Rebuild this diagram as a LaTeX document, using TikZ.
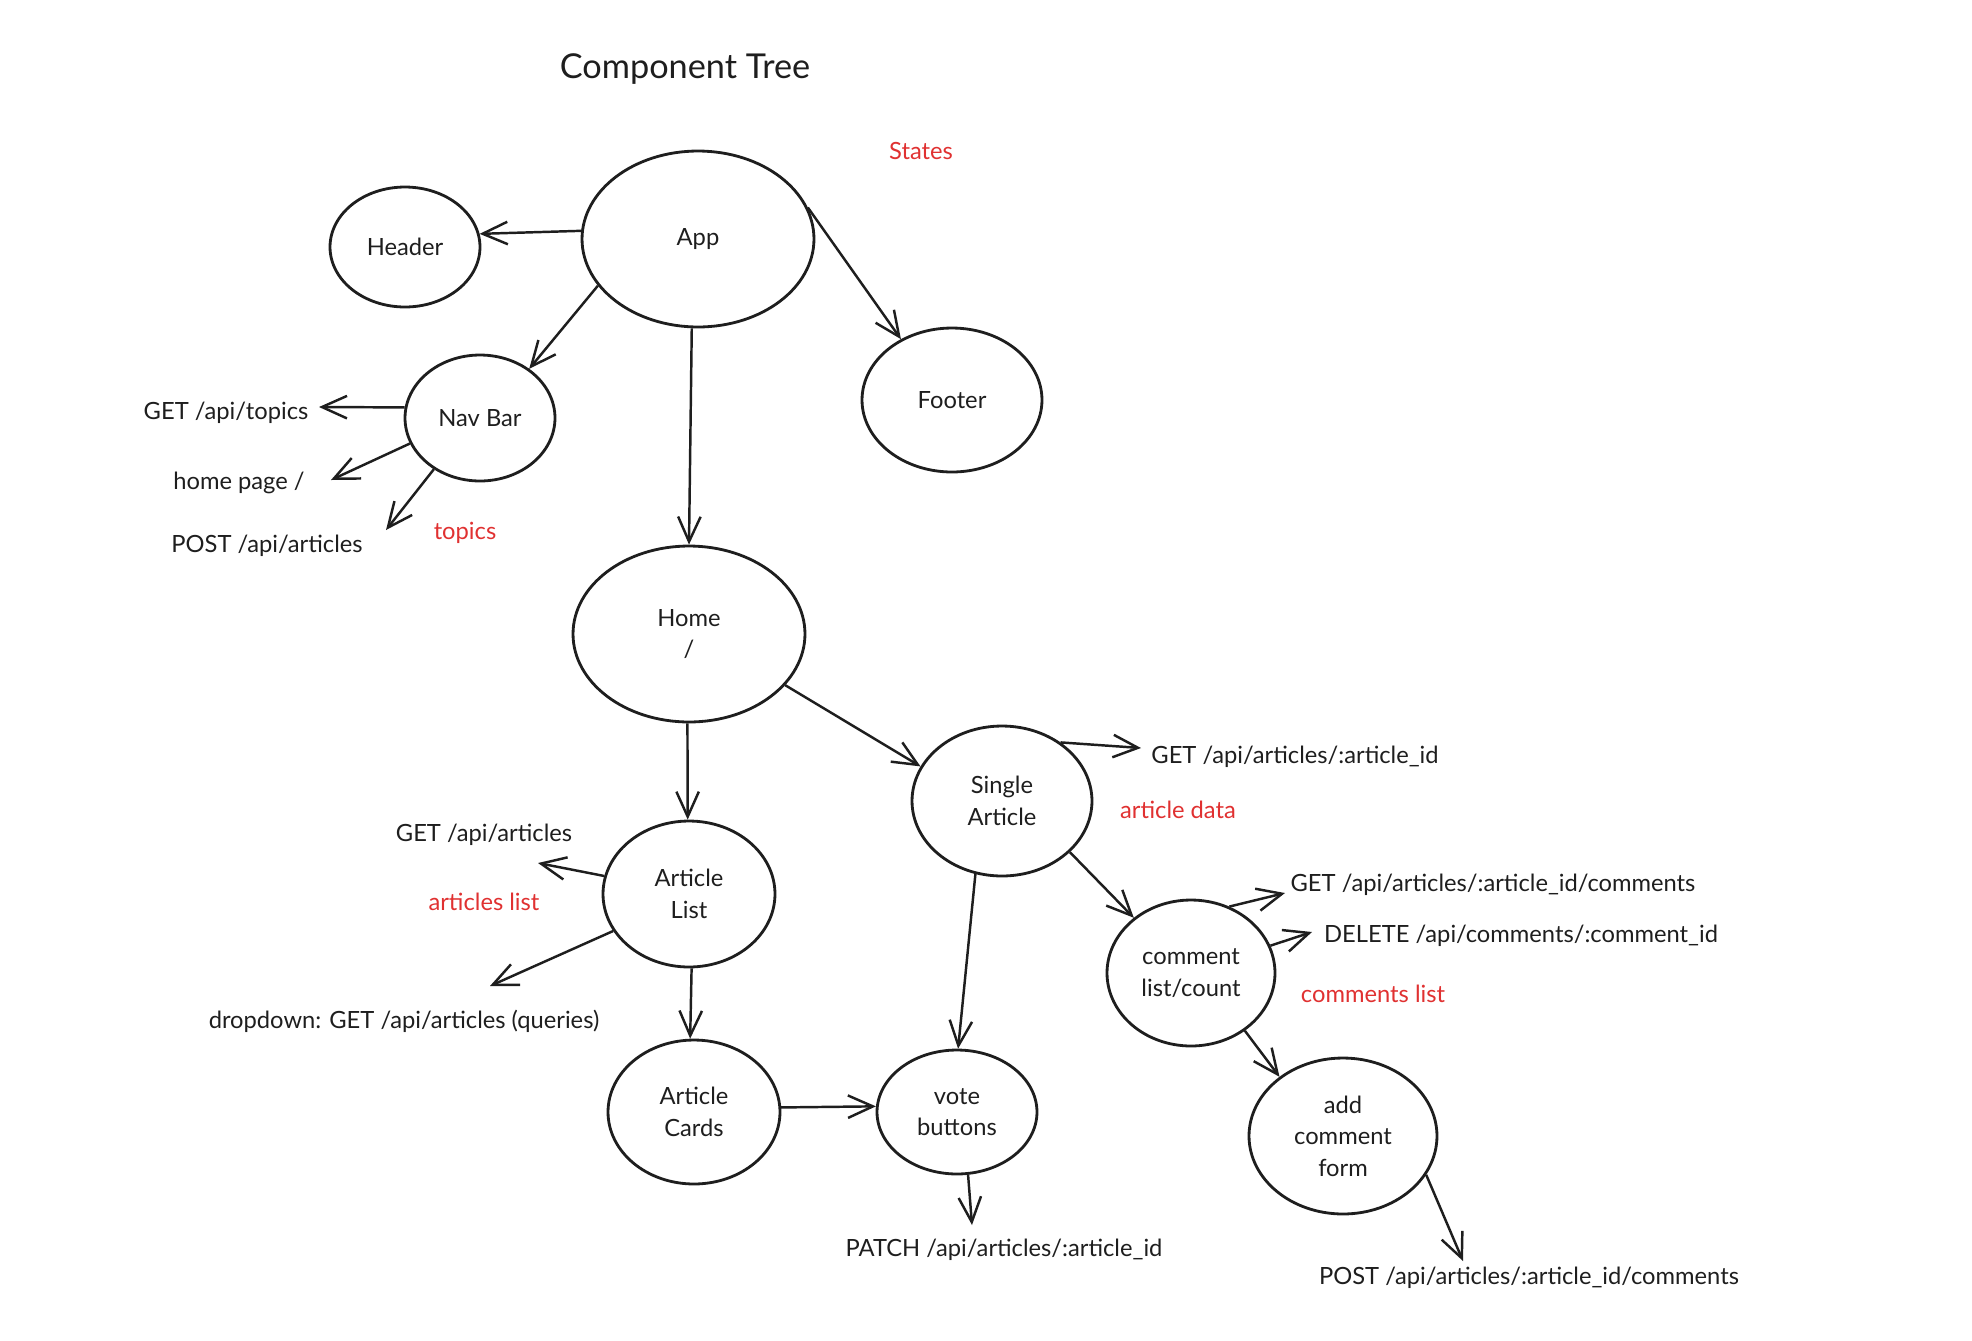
\documentclass[tikz,border=0pt]{standalone}
\usepackage{fontspec}
\setmainfont{Lato}
\usetikzlibrary{arrows.meta,shapes.geometric}
\definecolor{statered}{RGB}{224,49,49}
\definecolor{ink}{RGB}{30,30,30}
\begin{document}
\begin{tikzpicture}[x=0.02cm,y=-0.02cm,->,>={Straight Barb[length=0.5cm,width=0.45cm]},
  comp/.style={ellipse,draw=ink,text=ink,line width=1.6pt,inner sep=0pt,align=center,font=\fontsize{13.5}{18}\selectfont},
  call/.style={font=\fontsize{13.5}{18}\selectfont,text=ink},
  state/.style={font=\fontsize{13.5}{18}\selectfont,text=statered},
  every edge/.style={draw=ink,line width=1.4pt}]
\useasboundingbox (0,0) rectangle (1972,1340);
\node[font=\fontsize{19.5}{22}\selectfont,text=ink] (title) at (685,69) {Component Tree};
\node[state] (states) at (921,151) {States};
% components
\node[comp,minimum width=4.64cm,minimum height=3.52cm] (app) at (698,239) {App};
\node[comp,minimum width=3.0cm,minimum height=2.4cm] (header) at (405,247) {Header};
\node[comp,minimum width=3.6cm,minimum height=2.88cm] (footer) at (952,400) {Footer};
\node[comp,minimum width=3.0cm,minimum height=2.52cm] (navbar) at (480,418) {Nav Bar};
\node[comp,minimum width=4.64cm,minimum height=3.52cm] (home) at (689,634) {Home\\/};
\node[comp,minimum width=3.6cm,minimum height=3.0cm] (single) at (1002,801) {Single\\Article};
\node[comp,minimum width=3.44cm,minimum height=2.92cm] (alist) at (689,894) {Article\\List};
\node[comp,minimum width=3.44cm,minimum height=2.88cm] (cards) at (694,1112) {Article\\Cards};
\node[comp,minimum width=3.2cm,minimum height=2.48cm] (vote) at (957,1112) {vote\\buttons};
\node[comp,minimum width=3.36cm,minimum height=2.92cm] (comments) at (1191,973) {comment\\list/count};
\node[comp,minimum width=3.76cm,minimum height=3.12cm] (addform) at (1343,1136) {add\\comment\\form};
% api calls and states
\node[call] (getTopics) at (226,413) {GET /api/topics};
\node[call] (homePage) at (239,483) {home page /};
\node[call] (postArticle) at (267,546) {POST /api/articles};
\node[state] (topics) at (465,533) {topics};
\node[call] (getArticles) at (484,835) {GET /api/articles};
\node[state] (articlesList) at (484,902) {articles list};
\node[call] (dropdown) at (404,1021) {dropdown: GET /api/articles (queries)};
\node[call] (getArticle) at (1295,757) {GET /api/articles/:article\_id};
\node[state] (articleData) at (1178,810) {article data};
\node[call] (getComments) at (1493,885) {GET /api/articles/:article\_id/comments};
\node[call] (deleteComment) at (1521,936) {DELETE /api/comments/:comment\_id};
\node[state] (commentsList) at (1373,994) {comments list};
\node[call] (patchVotes) at (1004,1250) {PATCH /api/articles/:article\_id};
\node[call] (postComment) at (1529,1278) {POST /api/articles/:article\_id/comments};
% arrow tips
\coordinate (getTopicsTip) at (319,407);
\coordinate (homePageTip) at (331,480);
\coordinate (postArticleTip) at (386,530);
\coordinate (getArticlesTip) at (538,863);
\coordinate (dropdownTip) at (490,986);
\coordinate (getArticleTip) at (1141,748);
\coordinate (getCommentsTip) at (1285,893);
\coordinate (deleteCommentTip) at (1312,932);
\coordinate (patchVotesTip) at (972,1225);
\coordinate (postCommentTip) at (1463,1261);
\path (app.176) edge (header.10);
\path (app.205) edge (navbar.45);
\path (app.16) edge (footer.130);
\path (app.266) edge (home.90);
\path (navbar.172) edge (getTopicsTip);
\path (navbar.200) edge (homePageTip);
\path (navbar.228) edge (postArticleTip);
\path (home.269) edge (alist.91);
\path (home.332) edge (single.157);
\path (single.45) edge (getArticleTip);
\path (single.250) edge (vote.89);
\path (single.323) edge (comments.136);
\path (alist.168) edge (getArticlesTip);
\path (alist.206) edge (dropdownTip);
\path (alist.272) edge (cards.93);
\path (cards.3) edge (vote.176);
\path (vote.280) edge (patchVotesTip);
\path (comments.60) edge (getCommentsTip);
\path (comments.19) edge (deleteCommentTip);
\path (comments.313) edge (addform.137);
\path (addform.335) edge (postCommentTip);
\end{tikzpicture}
\end{document}
